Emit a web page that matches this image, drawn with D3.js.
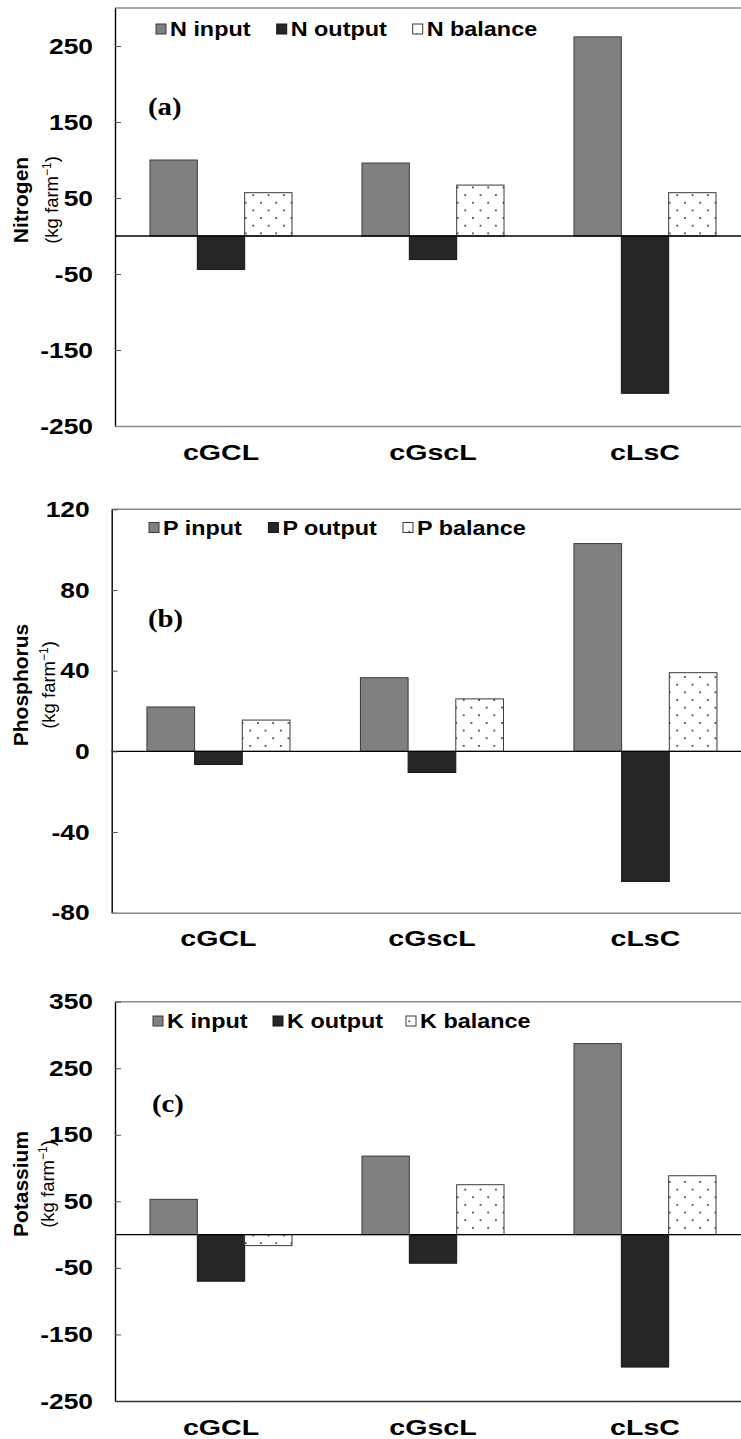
<!DOCTYPE html>
<html>
<head>
<meta charset="utf-8">
<script src="https://cdn.jsdelivr.net/npm/d3@7"></script>
<style>
  html, body { margin: 0; padding: 0; background: #fff; }
  svg { display: block; }
</style>
</head>
<body>
<svg id="chart" width="741" height="1439"></svg>
<script>
// Farm nutrient balance per system: input, output (negative) and balance
const systems = ["cGCL", "cGscL", "cLsC"];
const seriesKeys = ["input", "output", "balance"];

const nitrogenInput   = [100, 96, 262];
const nitrogenOutput  = [-44, -31, -207];
const nitrogenBalance = [57, 67, 57];

const phosphorusInput   = [22, 36.5, 103];
const phosphorusOutput  = [-6.5, -10.5, -64.5];
const phosphorusBalance = [15.5, 26, 39];

const potassiumInput   = [53, 118, 287];
const potassiumOutput  = [-70, -43, -199];
const potassiumBalance = [-16.5, 75, 88.5];

const nitrogenTicks   = [-250, -150, -50, 50, 150, 250];
const phosphorusTicks = [-80, -40, 0, 40, 80, 120];
const potassiumTicks  = [-250, -150, -50, 50, 150, 250, 350];

const panels = [
  { tag: "(a)", element: "N", title: "Nitrogen",
    input: nitrogenInput, output: nitrogenOutput, balance: nitrogenBalance,
    ticks: nitrogenTicks, domain: [-250, 300],
    left: 115, top: 8, bottom: 426, step: 212, titleY: 200,
    legendX: 156, legendY: 29, legendDx: [0, 120.7, 256.7], tagX: 148, tagY: 115,
    unitX: 57.5, bottomStroke: "#8a8a8a" },
  { tag: "(b)", element: "P", title: "Phosphorus",
    input: phosphorusInput, output: phosphorusOutput, balance: phosphorusBalance,
    ticks: phosphorusTicks, domain: [-80, 120],
    left: 111.7, top: 509.3, bottom: 912.7, step: 213.5, titleY: 685,
    legendX: 149, legendY: 527.5, legendDx: [0, 119.4, 254], tagX: 148, tagY: 627,
    unitX: 55, bottomStroke: "#8a8a8a" },
  { tag: "(c)", element: "K", title: "Potassium",
    input: potassiumInput, output: potassiumOutput, balance: potassiumBalance,
    ticks: potassiumTicks, domain: [-250, 350],
    left: 115, top: 1001.7, bottom: 1401, step: 212, titleY: 1184,
    legendX: 153, legendY: 1021, legendDx: [0, 120, 253], tagX: 152, tagY: 1112,
    unitX: 54, bottomStroke: "#333" }
];

const fills = { input: "#808080", output: "#262626", balance: "url(#dots)" };
const strokes = { input: "#3a3a3a", output: "#151515", balance: "#3a3a3a" };
const sans = "'Liberation Sans', Arial, sans-serif";
const serif = "'Liberation Serif', 'Times New Roman', serif";

const svg = d3.select("#chart");

// dotted fill for the balance bars
const defs = svg.append("defs");
const pat = defs.append("pattern")
  .attr("id", "dots").attr("patternUnits", "userSpaceOnUse")
  .attr("width", 15.3).attr("height", 15.3)
  .attr("x", 0).attr("y", 0);
pat.append("rect").attr("width", 15.3).attr("height", 15.3).attr("fill", "#fff");
pat.append("rect").attr("x", 3).attr("y", 3).attr("width", 1.7).attr("height", 1.7).attr("fill", "#333");
pat.append("rect").attr("x", 10.65).attr("y", 10.65).attr("width", 1.7).attr("height", 1.7).attr("fill", "#333");

// horizontally widened lettering
function stretchedText(parent, x, y, str, opts) {
  const g = parent.append("g").attr("transform", `translate(${x},${y}) scale(${opts.sx},1)`);
  return g.append("text")
    .attr("font-family", opts.family || sans)
    .attr("font-size", opts.size)
    .attr("font-weight", opts.weight || "bold")
    .attr("text-anchor", opts.anchor || "start")
    .attr("fill", "#000")
    .text(str);
}

panels.forEach(p => {
  const right = p.left + p.step * systems.length;
  const g = svg.append("g");

  const y = d3.scaleLinear().domain(p.domain).range([p.bottom, p.top]);
  const x0 = d3.scaleBand().domain(systems).range([p.left, right])
    .paddingInner(0.33).paddingOuter(0.165);
  const x1 = d3.scaleBand().domain(seriesKeys).range([0, x0.bandwidth()]);

  // top frame line
  g.append("line")
    .attr("x1", p.left).attr("x2", right)
    .attr("y1", p.top).attr("y2", p.top)
    .attr("stroke", "#8a8a8a").attr("stroke-width", 1.5);

  // bars
  const rows = systems.map((s, i) => ({
    system: s,
    values: seriesKeys.map(k => ({ key: k, value: p[k][i] }))
  }));
  const groups = g.selectAll("g.grp").data(rows).join("g")
    .attr("class", "grp")
    .attr("transform", d => `translate(${x0(d.system)},0)`);
  groups.selectAll("rect").data(d => d.values).join("rect")
    .attr("x", d => x1(d.key))
    .attr("width", x1.bandwidth())
    .attr("y", d => y(Math.max(0, d.value)))
    .attr("height", d => Math.abs(y(d.value) - y(0)))
    .attr("fill", d => fills[d.key])
    .attr("stroke", d => strokes[d.key])
    .attr("stroke-width", 1);

  // zero line
  g.append("line")
    .attr("x1", p.left).attr("x2", right)
    .attr("y1", y(0)).attr("y2", y(0))
    .attr("stroke", "#000").attr("stroke-width", 1.3);

  // y axis with inward ticks
  const yAxis = g.append("g")
    .attr("transform", `translate(${p.left},0)`)
    .call(d3.axisLeft(y).tickValues(p.ticks).tickFormat(d => String(d))
      .tickSizeInner(-6).tickSizeOuter(0).tickPadding(22));
  yAxis.select(".domain").attr("stroke", "#000").attr("stroke-width", 1.4);
  yAxis.selectAll(".tick line").attr("stroke", "#555");
  yAxis.selectAll(".tick text")
    .attr("x", 0)
    .attr("transform", "translate(-22,0) scale(1.2,1)")
    .attr("font-family", sans).attr("font-size", 22).attr("font-weight", "bold")
    .attr("fill", "#000");

  // x axis (category labels)
  const xAxis = g.append("g")
    .attr("transform", `translate(0,${p.bottom})`)
    .call(d3.axisBottom(x0).tickSize(0).tickPadding(18));
  xAxis.select(".domain").attr("stroke", p.bottomStroke).attr("stroke-width", 1.5);
  xAxis.selectAll(".tick text")
    .attr("y", 0)
    .attr("transform", "translate(0,18) scale(1.3,1)")
    .attr("font-family", sans).attr("font-size", 22).attr("font-weight", "bold")
    .attr("fill", "#000");

  // legend
  seriesKeys.forEach((k, i) => {
    const lx = p.legendX + p.legendDx[i];
    g.append("rect")
      .attr("x", lx).attr("y", p.legendY - 5)
      .attr("width", 10).attr("height", 10)
      .attr("fill", fills[k]).attr("stroke", strokes[k]).attr("stroke-width", 1);
    stretchedText(g, lx + 14, p.legendY + 7, `${p.element} ${k}`, { size: 19.5, sx: 1.2 });
  });

  // panel tag
  stretchedText(g, p.tagX, p.tagY, p.tag, { size: 25, sx: 1.15, family: serif });

  // y title and unit
  g.append("text")
    .attr("transform", `translate(28,${p.titleY}) rotate(-90)`)
    .attr("text-anchor", "middle")
    .attr("font-family", sans).attr("font-size", 21).attr("font-weight", "bold")
    .text(p.title);
  const unit = g.append("text")
    .attr("transform", `translate(${p.unitX},${p.titleY}) rotate(-90)`)
    .attr("text-anchor", "middle")
    .attr("font-family", sans).attr("font-size", 18.5);
  unit.append("tspan").text("(kg farm");
  unit.append("tspan").attr("font-size", 12).attr("dy", -7).text("\u22121");
  unit.append("tspan").attr("dy", 7).text(")");
});
</script>
</body>
</html>
